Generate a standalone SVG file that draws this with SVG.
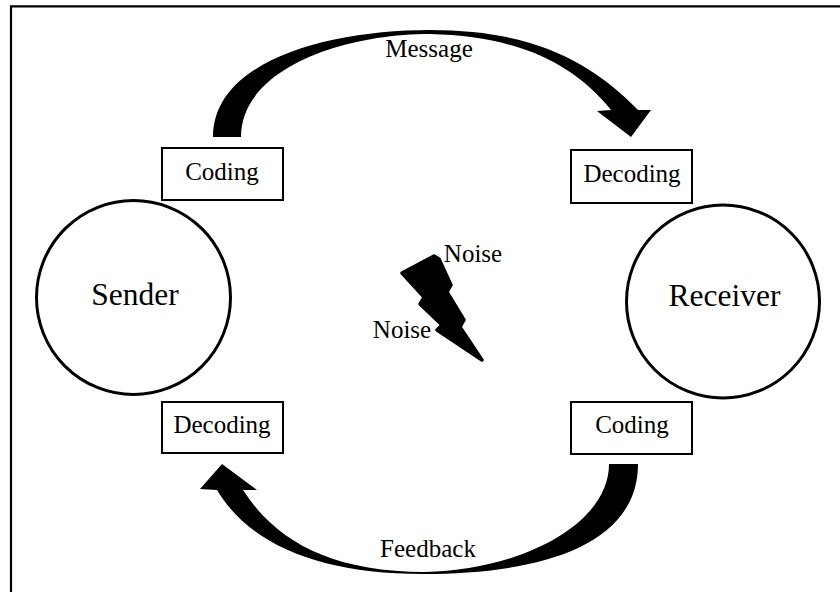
<svg xmlns="http://www.w3.org/2000/svg" width="840" height="592" viewBox="0 0 840 592">
<style>
text{font-family:"Liberation Serif","Times New Roman",serif;fill:#000;text-anchor:middle}
.lbl{font-size:25px}
.big{font-size:31.5px}
.box{fill:#fff;stroke:#000;stroke-width:2}
.circ{fill:#fff;stroke:#000;stroke-width:3}
.arrow{fill:#000;stroke:none}
</style>
<rect width="840" height="592" fill="#fff"/>
<g id="frame" fill="none" stroke="#000" stroke-width="2.2">
<path d="M11,592 V6.3 H840"/>
</g>
<g id="connectors">
<path class="arrow" d="M213,137 C213,60 330,30 430,30 C530,30 590,60 638,110 L651,110 L631,137 L597,111 L611,110 C575,65 520,36 430,34 C340,34 241,70 241,137 Z"/>
<path class="arrow" d="M638,464 C638,550 530,574 423,574 C320,574 250,545 217,490 L200,489 L222,464 L257,490 L243,490 C275,540 330,572 425,572 C520,570 609,525 609,464 Z"/>
<text class="lbl" x="429" y="57">Message</text>
<text class="lbl" x="428" y="557">Feedback</text>
</g>
<g id="sender">
<circle class="circ" cx="133.5" cy="297.5" r="97"/>
<text class="big" x="135" y="305">Sender</text>
</g>
<g id="receiver">
<circle class="circ" cx="723" cy="301.5" r="96.5"/>
<text class="big" x="724.5" y="306">Receiver</text>
</g>
<g id="coding-sender">
<rect class="box" x="162" y="148" width="121" height="52"/>
<text class="lbl" x="222" y="180">Coding</text>
</g>
<g id="decoding-receiver">
<rect class="box" x="571" y="150" width="121" height="53"/>
<text class="lbl" x="632" y="182">Decoding</text>
</g>
<g id="coding-receiver">
<rect class="box" x="571" y="402" width="121" height="52"/>
<text class="lbl" x="632" y="433">Coding</text>
</g>
<g id="decoding-sender">
<rect class="box" x="162" y="402" width="121" height="51"/>
<text class="lbl" x="222" y="433">Decoding</text>
</g>
<g id="noise">
<polygon points="402,273 434,256 439,259 451,285 447,292 464,320 460,327 482,360 437,330 442,325 420,304 424,297" fill="#000" stroke="#000" stroke-width="3.5" stroke-linejoin="round"/>
<text class="lbl" x="473" y="262">Noise</text>
<text class="lbl" x="402" y="338">Noise</text>
</g>
</svg>
